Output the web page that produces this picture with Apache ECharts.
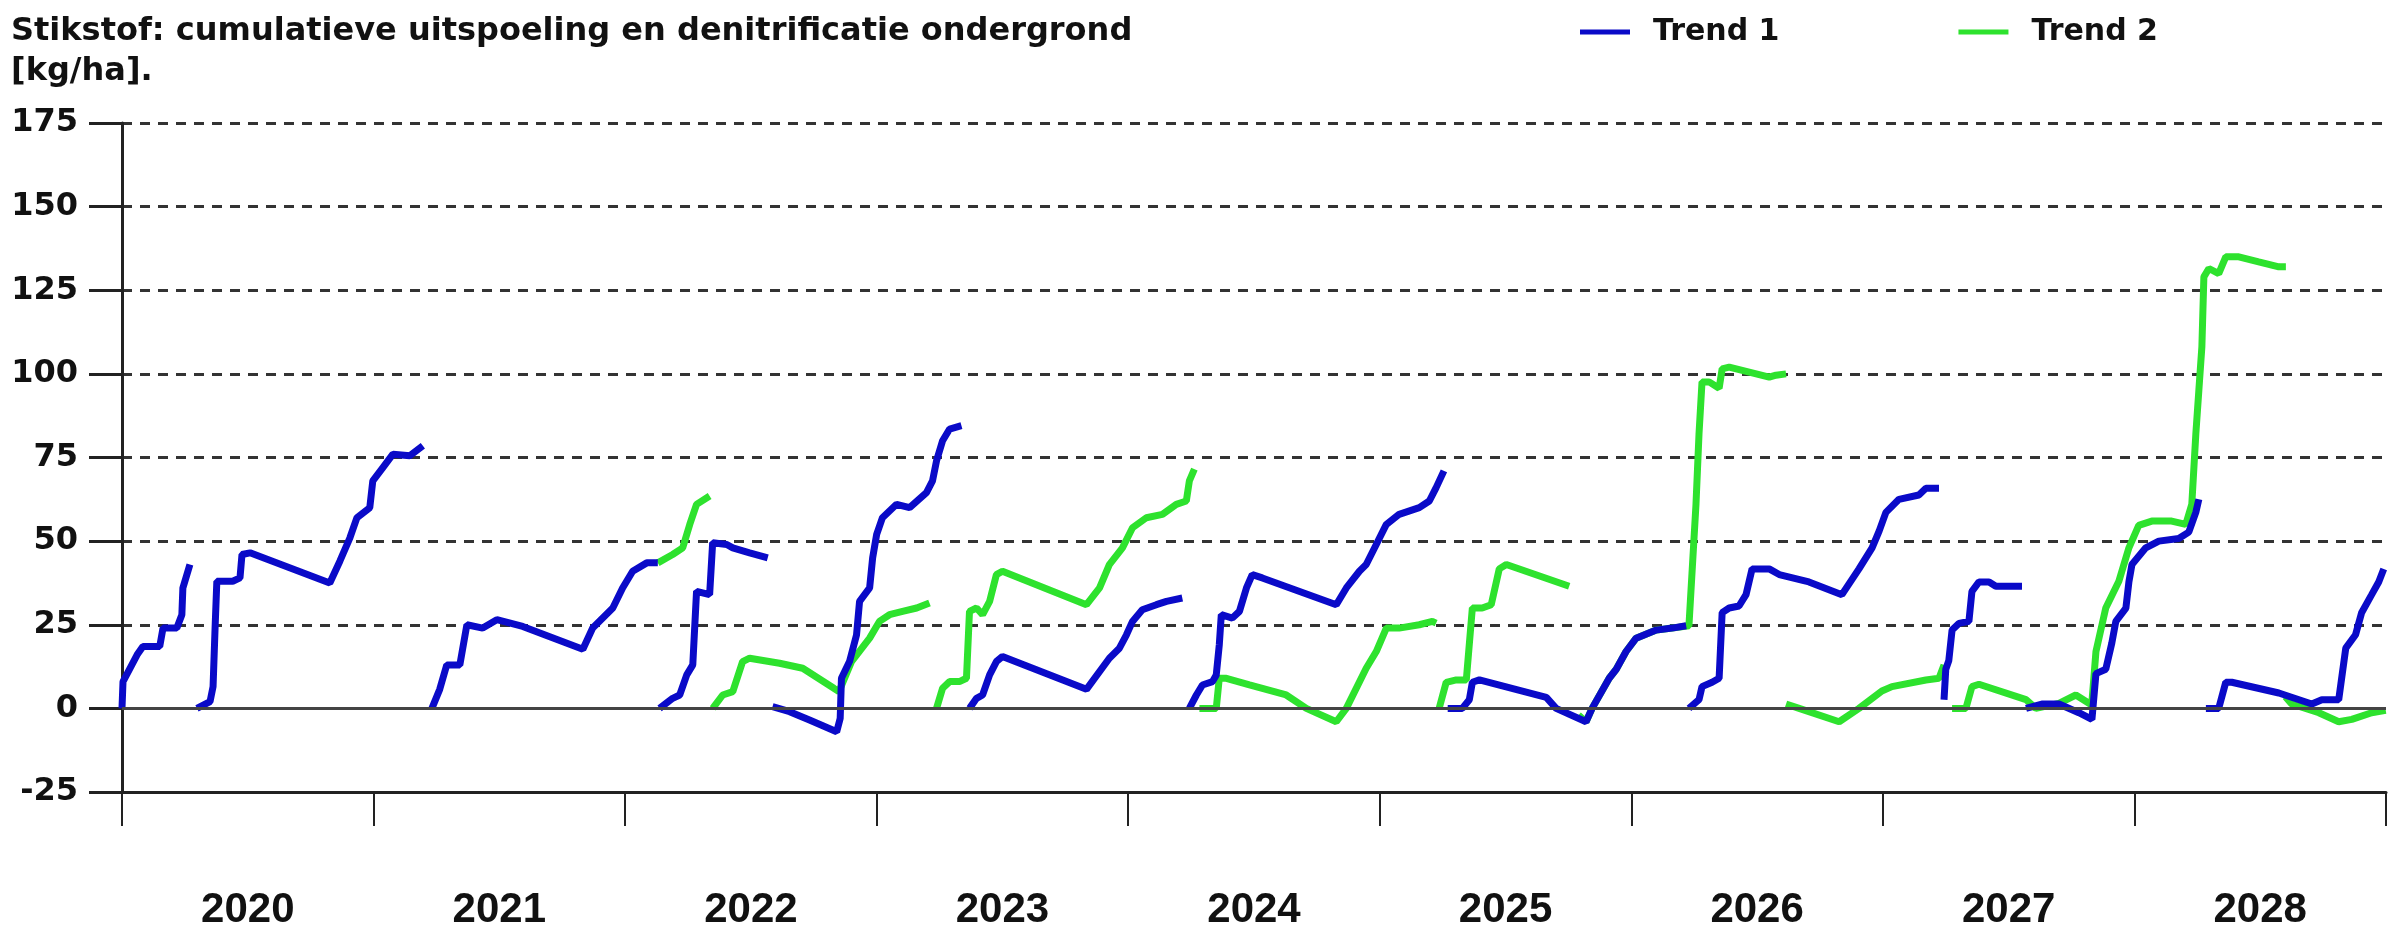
<!DOCTYPE html>
<html>
<head>
<meta charset="utf-8">
<script src="https://cdn.jsdelivr.net/npm/echarts@6/dist/echarts.min.js"></script>
<style>
html,body{margin:0;padding:0;background:#fff;}
#chart{width:2399px;height:931px;}
</style>
</head>
<body>
<div id="chart"></div>
<script>
// ---- Data (x = time in years, y = kg/ha) ----
const yearLabels = ['2020','2021','2022','2023','2024','2025','2026','2027','2028'];
const yTicks = {min: -25, max: 175, step: 25};

// Trend 1 (blue) segments
const t1_2020a = [[2020.000,0],[2020.004,8],[2020.06,16],[2020.083,18.5],[2020.15,18.5],[2020.163,24],[2020.218,24],[2020.238,28],[2020.242,36],[2020.27,43]];
const t1_2020b = [[2020.298,0],[2020.35,2],[2020.362,6.5],[2020.37,24],[2020.377,38],[2020.44,38],[2020.469,39],[2020.477,46],[2020.509,46.5],[2020.826,37.5],[2020.866,44],[2020.906,51],[2020.934,57],[2020.985,60],[2020.997,68],[2021.037,72],[2021.077,76],[2021.144,75.5],[2021.196,78.5]];
const t1_2021 = [[2021.232,0],[2021.263,5.7],[2021.291,13],[2021.343,13],[2021.371,25],[2021.434,24],[2021.49,26.5],[2021.593,24.5],[2021.832,17.7],[2021.871,24],[2021.951,30],[2021.99,36],[2022.03,41],[2022.086,43.5],[2022.13,43.5]];
const t1_2022a = [[2022.137,0],[2022.189,3],[2022.217,4],[2022.245,10],[2022.269,13],[2022.284,35],[2022.336,34],[2022.348,49.5],[2022.404,49],[2022.428,48],[2022.495,46.5],[2022.567,45]];
const t1_2022b = [[2022.586,0.5],[2022.654,-1],[2022.733,-3.5],[2022.841,-7],[2022.855,-3],[2022.86,9],[2022.892,14],[2022.92,22],[2022.932,32],[2022.972,36],[2022.984,45],[2023.0,52],[2023.023,57],[2023.079,61],[2023.131,60],[2023.198,64.5],[2023.222,68],[2023.238,74],[2023.262,80],[2023.29,83.5],[2023.337,84.5]];
const t1_2023 = [[2023.369,0],[2023.397,3],[2023.421,4],[2023.449,10],[2023.476,14],[2023.5,15.5],[2023.834,5.7],[2023.925,15],[2023.965,18],[2023.993,22],[2024.017,26],[2024.056,29.5],[2024.112,31],[2024.152,32],[2024.215,33]];
const t1_2024 = [[2024.243,0],[2024.271,4],[2024.295,7],[2024.335,8],[2024.35,10],[2024.362,19],[2024.37,28],[2024.414,27],[2024.442,29],[2024.47,36],[2024.493,40],[2024.533,39],[2024.827,31],[2024.867,36],[2024.919,41],[2024.946,43],[2024.986,49],[2025.026,55],[2025.077,58],[2025.157,60],[2025.197,62],[2025.224,66],[2025.255,71]];
const t1_2025 = [[2025.27,0],[2025.328,0],[2025.356,2.6],[2025.368,7.8],[2025.396,8.5],[2025.662,3.3],[2025.701,0],[2025.82,-4],[2025.844,0],[2025.912,9],[2025.94,11.7],[2025.979,17],[2026.019,21],[2026.099,23.4],[2026.162,24],[2026.218,24.7]];
const t1_2026 = [[2026.229,0],[2026.269,2.6],[2026.281,6.5],[2026.321,7.8],[2026.349,9],[2026.361,28.6],[2026.389,30],[2026.428,30.6],[2026.456,34],[2026.48,41.7],[2026.548,41.7],[2026.588,40],[2026.706,37.8],[2026.837,34],[2026.905,41.7],[2026.957,48],[2026.985,53],[2027.012,58.6],[2027.064,62.5],[2027.143,63.8],[2027.171,65.8],[2027.223,65.8]];
const t1_2027a = [[2027.243,2.6],[2027.25,11.7],[2027.262,14.3],[2027.275,23.4],[2027.302,25.4],[2027.342,26],[2027.354,35],[2027.382,37.8],[2027.422,37.8],[2027.449,36.5],[2027.553,36.5]];
const t1_2027b = [[2027.569,0],[2027.632,1.3],[2027.7,1.3],[2027.779,-1.3],[2027.831,-3.3],[2027.847,10.4],[2027.886,11.7],[2027.91,19.5],[2027.926,26],[2027.966,30],[2027.978,37.8],[2027.99,43],[2028.045,48],[2028.097,50],[2028.176,50.8],[2028.216,52.7],[2028.244,58.6],[2028.256,62.5]];
const t1_2028 = [[2028.284,0],[2028.335,0],[2028.363,7.8],[2028.387,7.8],[2028.574,4.6],[2028.705,1.3],[2028.745,2.6],[2028.812,2.6],[2028.84,18],[2028.879,22],[2028.903,28.6],[2028.943,34],[2028.971,37.8],[2028.991,41.7]];

// Trend 2 (green) segments
const t2_2022a = [[2022.13,43.5],[2022.189,46],[2022.229,48],[2022.257,55],[2022.284,61],[2022.336,63.5]];
const t2_2022b = [[2022.348,0],[2022.388,4],[2022.428,5],[2022.467,14],[2022.495,15],[2022.614,13.5],[2022.706,12],[2022.83,6],[2022.85,5],[2022.9,14],[2022.972,21],[2023.011,26],[2023.051,28],[2023.103,29],[2023.159,30],[2023.21,31.5]];
const t2_2023 = [[2023.238,0],[2023.262,6],[2023.29,8],[2023.329,8],[2023.357,9],[2023.369,29],[2023.397,30],[2023.421,28],[2023.449,32],[2023.476,40],[2023.5,41],[2023.834,31],[2023.886,36],[2023.925,43],[2023.977,48],[2024.017,54],[2024.072,57],[2024.136,58],[2024.191,61],[2024.231,62],[2024.243,68],[2024.263,71.5]];
const t2_2024 = [[2024.283,0],[2024.35,0],[2024.362,9],[2024.39,9],[2024.482,7],[2024.628,4],[2024.708,0],[2024.827,-4],[2024.867,0],[2024.946,12],[2024.986,17],[2025.026,24],[2025.077,24],[2025.157,25],[2025.209,26],[2025.224,25.5]];
const t2_2025 = [[2025.236,0],[2025.264,7.8],[2025.304,8.5],[2025.344,8.5],[2025.368,30],[2025.407,30],[2025.443,31],[2025.475,41.7],[2025.503,43],[2025.753,36.5]];
const t2_2026a = [[2025.79,-2],[2025.82,-4],[2025.844,0],[2025.912,9],[2025.94,11.7],[2025.979,17],[2026.019,21],[2026.099,23.4],[2026.162,24],[2026.229,24.7],[2026.257,61],[2026.269,82],[2026.281,97.6],[2026.309,97.6],[2026.349,95.7],[2026.361,101.5],[2026.389,102],[2026.548,99],[2026.575,99.6],[2026.615,100]];
const t2_2026b = [[2026.615,1.3],[2026.667,0],[2026.826,-4],[2026.905,0],[2026.996,5.2],[2027.036,6.5],[2027.171,8.5],[2027.223,9],[2027.243,13]];
const t2_2027 = [[2027.275,0],[2027.33,0],[2027.354,6.5],[2027.382,7.2],[2027.569,2.6],[2027.608,0],[2027.7,1.5],[2027.767,4],[2027.83,1],[2027.847,17],[2027.886,30],[2027.938,38],[2027.978,48],[2028.017,54.7],[2028.069,56],[2028.148,56],[2028.204,55],[2028.228,61],[2028.244,82],[2028.256,95],[2028.268,108],[2028.276,129],[2028.296,131.5],[2028.335,130],[2028.363,135],[2028.415,135],[2028.494,133.5],[2028.574,132],[2028.602,132]];
const t2_2028 = [[2028.6,3.5],[2028.625,1.3],[2028.733,-1.3],[2028.812,-4],[2028.864,-3.3],[2028.943,-1.3],[2028.999,-0.6]];

const trend1Segments = [t1_2020a,t1_2020b,t1_2021,t1_2022a,t1_2022b,t1_2023,t1_2024,t1_2025,t1_2026,t1_2027a,t1_2027b,t1_2028];
const trend2Segments = [t2_2022a,t2_2022b,t2_2023,t2_2024,t2_2025,t2_2026a,t2_2026b,t2_2027,t2_2028];

function joinSegments(segs){
  const out = [];
  segs.forEach((s,i)=>{ if(i>0) out.push(null); s.forEach(p=>out.push(p)); });
  return out;
}

const BLUE = '#0a0ac8';
const GREEN = '#2ee22e';
const TXT = '#111';

const chart = echarts.init(document.getElementById('chart'), null, {renderer:'canvas'});
chart.setOption({
  backgroundColor: '#fff',
  animation: false,
  title: {
    text: 'Stikstof: cumulatieve uitspoeling en denitrificatie ondergrond\n[kg/ha].',
    left: 6, top: 7,
    textStyle: {fontFamily:'DejaVu Sans', fontWeight:'bold', fontSize:32, lineHeight:40, color:TXT}
  },
  legend: {
    left: 1575, top: 12,
    itemWidth: 50, itemHeight: 5, itemGap: 179,
    icon: 'rect',
    data: ['Trend 1','Trend 2'],
    textStyle: {fontFamily:'DejaVu Sans', fontWeight:'bold', fontSize:30, color:TXT, padding:[0,0,0,18]}
  },
  grid: {left:122, right:13, top:123, bottom:139},
  xAxis: [{
    type:'value', min:2020, max:2029, interval:1,
    axisLine:{show:true, onZero:false, lineStyle:{color:'#222', width:3}},
    axisTick:{show:true, length:34, lineStyle:{color:'#222', width:2}},
    axisLabel:{show:false},
    splitLine:{show:false}
  },{
    type:'category', data: yearLabels, position:'bottom',
    axisLine:{show:false, onZero:false}, axisTick:{show:false}, splitLine:{show:false},
    axisLabel:{margin:97, fontFamily:'Liberation Sans', fontWeight:'bold', fontSize:42, color:TXT}
  }],
  yAxis: {
    type:'value', min:yTicks.min, max:yTicks.max, interval:yTicks.step,
    axisLine:{show:true, lineStyle:{color:'#222', width:3}},
    axisTick:{show:true, length:33, lineStyle:{color:'#222', width:3}},
    axisLabel:{margin:44, fontFamily:'DejaVu Sans', fontWeight:'bold', fontSize:32, color:TXT},
    splitLine:{show:true, lineStyle:{color:'#333', width:3, type:[10,8]}}
  },
  series: [{
    name:'Trend 2', type:'line', xAxisIndex:0, data: joinSegments(trend2Segments),
    showSymbol:false, connectNulls:false, color: GREEN,
    lineStyle:{color:GREEN, width:7}, z:2,
    markLine:{silent:true, symbol:'none', label:{show:false},
      lineStyle:{color:'#444', width:3, type:'solid'}, data:[{yAxis:0}]}
  },{
    name:'Trend 1', type:'line', xAxisIndex:0, data: joinSegments(trend1Segments),
    showSymbol:false, connectNulls:false, color: BLUE,
    lineStyle:{color:BLUE, width:7}, z:3
  }]
});
</script>
</body>
</html>
